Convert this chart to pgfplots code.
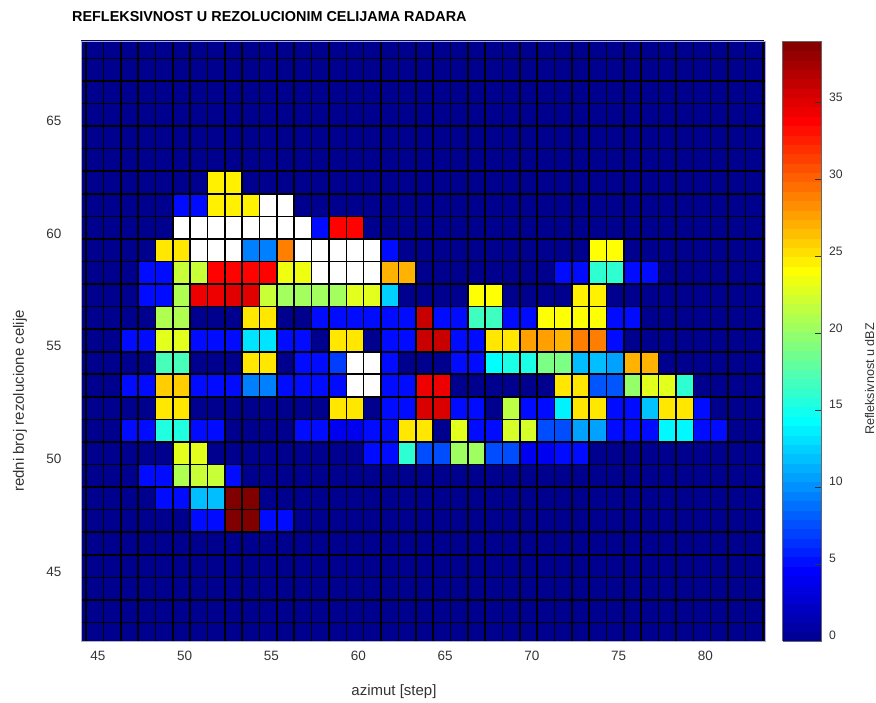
\documentclass[border=0pt]{standalone}
\usepackage{fontspec}
\setmainfont{Liberation Sans}
\usepackage{pgfplots}
\pgfplotsset{compat=1.18}
\definecolor{lbl}{gray}{0.2}
\definecolor{zerocell}{RGB}{0,0,143}
\begin{document}
\begin{tikzpicture}[x=1pt,y=1pt]
\useasboundingbox (0,0) rectangle (876,702);
\begin{axis}[
at={(81pt,61pt)}, anchor=south west,
scale only axis, width=684pt, height=600pt,
xmin=43.71, xmax=83.13, ymin=42.18, ymax=68.77,
axis background/.style={fill=zerocell},
axis on top,
xtick={45,50,...,80}, ytick={45,50,...,65},
minor xtick={44,45,...,83}, minor ytick={43,44,...,68},
grid=both,
major grid style={black, line width=1.6pt},
minor grid style={black, line width=1.6pt},
major tick length=0pt, minor tick length=0pt,
axis line style={gray!60, line width=0.8pt},
tick label style={font=\fontsize{13.5}{15}\selectfont, text=lbl},
xticklabel style={xshift=-5.4pt, yshift=-7pt},
yticklabel style={yshift=5.5pt, xshift=-16pt},
/pgf/number format/assume math mode=true,
title={\fontsize{14.4}{16}\selectfont\bfseries REFLEKSIVNOST U REZOLUCIONIM CELIJAMA RADARA},
title style={at={(axis description cs:-0.0132,1.031)}, anchor=west, inner sep=0pt, yshift=0pt},
xlabel={azimut [step]}, ylabel={redni broj rezolucione celije},
label style={font=\fontsize{15}{17}\selectfont, text=lbl},
xlabel style={at={(axis description cs:0.4576,-0.085)}, anchor=center},
ylabel style={at={(axis description cs:-0.0892,0.4)}, anchor=center},
colormap={mjet}{rgb255(0pt)=(0,0,143); rgb255(94pt)=(0,0,255); rgb255(293pt)=(0,255,255); rgb255(494pt)=(255,255,0); rgb255(693pt)=(255,0,0); rgb255(800pt)=(128,0,0)},
point meta min=0, point meta max=39,
colorbar sampled,
colorbar style={
  at={(parent axis.north east)}, anchor=north west, xshift=9pt,
  width=39pt, samples=65,
  grid=none,
  ytick={0,5,...,35}, ytick pos=right, yticklabel pos=right,
  major tick length=7pt, tick align=inside,
  tick style={draw=black!80, line width=0.7pt},
  axis line style={black!60, line width=0.8pt},
  /pgf/number format/assume math mode=true,
  ylabel={Refleksivnost u dBZ},
  ylabel style={font=\fontsize{12.6}{14}\selectfont, text=lbl, at={(axis description cs:2.23,0.4367)}, anchor=center},
  yticklabel style={font=\fontsize{12.2}{14}\selectfont, text=lbl, yshift=5.5pt, xshift=4pt},
},
]
% one line per row of cells, n and m name the cell, its top left corner is (n-1, m+1)
\addplot[surf, shader=flat corner, mesh/cols=41, mesh/check=false, point meta=explicit]
table[row sep=\\, x expr=\thisrow{n}-1, y expr=\thisrow{m}+1, meta=v]{
n m v\\
44 68 0\\45 68 0\\46 68 0\\47 68 0\\48 68 0\\49 68 0\\50 68 0\\51 68 0\\52 68 0\\53 68 0\\54 68 0\\55 68 0\\56 68 0\\57 68 0\\58 68 0\\59 68 0\\60 68 0\\61 68 0\\62 68 0\\63 68 0\\64 68 0\\65 68 0\\66 68 0\\67 68 0\\68 68 0\\69 68 0\\70 68 0\\71 68 0\\72 68 0\\73 68 0\\74 68 0\\75 68 0\\76 68 0\\77 68 0\\78 68 0\\79 68 0\\80 68 0\\81 68 0\\82 68 0\\83 68 0\\84 68 0\\
44 67 0\\45 67 0\\46 67 0\\47 67 0\\48 67 0\\49 67 0\\50 67 0\\51 67 0\\52 67 0\\53 67 0\\54 67 0\\55 67 0\\56 67 0\\57 67 0\\58 67 0\\59 67 0\\60 67 0\\61 67 0\\62 67 0\\63 67 0\\64 67 0\\65 67 0\\66 67 0\\67 67 0\\68 67 0\\69 67 0\\70 67 0\\71 67 0\\72 67 0\\73 67 0\\74 67 0\\75 67 0\\76 67 0\\77 67 0\\78 67 0\\79 67 0\\80 67 0\\81 67 0\\82 67 0\\83 67 0\\84 67 0\\
44 66 0\\45 66 0\\46 66 0\\47 66 0\\48 66 0\\49 66 0\\50 66 0\\51 66 0\\52 66 0\\53 66 0\\54 66 0\\55 66 0\\56 66 0\\57 66 0\\58 66 0\\59 66 0\\60 66 0\\61 66 0\\62 66 0\\63 66 0\\64 66 0\\65 66 0\\66 66 0\\67 66 0\\68 66 0\\69 66 0\\70 66 0\\71 66 0\\72 66 0\\73 66 0\\74 66 0\\75 66 0\\76 66 0\\77 66 0\\78 66 0\\79 66 0\\80 66 0\\81 66 0\\82 66 0\\83 66 0\\84 66 0\\
44 65 0\\45 65 0\\46 65 0\\47 65 0\\48 65 0\\49 65 0\\50 65 0\\51 65 0\\52 65 0\\53 65 0\\54 65 0\\55 65 0\\56 65 0\\57 65 0\\58 65 0\\59 65 0\\60 65 0\\61 65 0\\62 65 0\\63 65 0\\64 65 0\\65 65 0\\66 65 0\\67 65 0\\68 65 0\\69 65 0\\70 65 0\\71 65 0\\72 65 0\\73 65 0\\74 65 0\\75 65 0\\76 65 0\\77 65 0\\78 65 0\\79 65 0\\80 65 0\\81 65 0\\82 65 0\\83 65 0\\84 65 0\\
44 64 0\\45 64 0\\46 64 0\\47 64 0\\48 64 0\\49 64 0\\50 64 0\\51 64 0\\52 64 0\\53 64 0\\54 64 0\\55 64 0\\56 64 0\\57 64 0\\58 64 0\\59 64 0\\60 64 0\\61 64 0\\62 64 0\\63 64 0\\64 64 0\\65 64 0\\66 64 0\\67 64 0\\68 64 0\\69 64 0\\70 64 0\\71 64 0\\72 64 0\\73 64 0\\74 64 0\\75 64 0\\76 64 0\\77 64 0\\78 64 0\\79 64 0\\80 64 0\\81 64 0\\82 64 0\\83 64 0\\84 64 0\\
44 63 0\\45 63 0\\46 63 0\\47 63 0\\48 63 0\\49 63 0\\50 63 0\\51 63 0\\52 63 0\\53 63 0\\54 63 0\\55 63 0\\56 63 0\\57 63 0\\58 63 0\\59 63 0\\60 63 0\\61 63 0\\62 63 0\\63 63 0\\64 63 0\\65 63 0\\66 63 0\\67 63 0\\68 63 0\\69 63 0\\70 63 0\\71 63 0\\72 63 0\\73 63 0\\74 63 0\\75 63 0\\76 63 0\\77 63 0\\78 63 0\\79 63 0\\80 63 0\\81 63 0\\82 63 0\\83 63 0\\84 63 0\\
44 62 0\\45 62 0\\46 62 0\\47 62 0\\48 62 0\\49 62 0\\50 62 0\\51 62 0\\52 62 24.6\\53 62 24.6\\54 62 0\\55 62 0\\56 62 0\\57 62 0\\58 62 0\\59 62 0\\60 62 0\\61 62 0\\62 62 0\\63 62 0\\64 62 0\\65 62 0\\66 62 0\\67 62 0\\68 62 0\\69 62 0\\70 62 0\\71 62 0\\72 62 0\\73 62 0\\74 62 0\\75 62 0\\76 62 0\\77 62 0\\78 62 0\\79 62 0\\80 62 0\\81 62 0\\82 62 0\\83 62 0\\84 62 0\\
44 61 0\\45 61 0\\46 61 0\\47 61 0\\48 61 0\\49 61 0\\50 61 5\\51 61 5\\52 61 24.6\\53 61 24.6\\54 61 24.6\\55 61 0\\56 61 0\\57 61 0\\58 61 0\\59 61 0\\60 61 0\\61 61 0\\62 61 0\\63 61 0\\64 61 0\\65 61 0\\66 61 0\\67 61 0\\68 61 0\\69 61 0\\70 61 0\\71 61 0\\72 61 0\\73 61 0\\74 61 0\\75 61 0\\76 61 0\\77 61 0\\78 61 0\\79 61 0\\80 61 0\\81 61 0\\82 61 0\\83 61 0\\84 61 0\\
44 60 0\\45 60 0\\46 60 0\\47 60 0\\48 60 0\\49 60 0\\50 60 0\\51 60 0\\52 60 0\\53 60 0\\54 60 0\\55 60 0\\56 60 0\\57 60 0\\58 60 5\\59 60 33.7\\60 60 33.7\\61 60 0\\62 60 0\\63 60 0\\64 60 0\\65 60 0\\66 60 0\\67 60 0\\68 60 0\\69 60 0\\70 60 0\\71 60 0\\72 60 0\\73 60 0\\74 60 0\\75 60 0\\76 60 0\\77 60 0\\78 60 0\\79 60 0\\80 60 0\\81 60 0\\82 60 0\\83 60 0\\84 60 0\\
44 59 0\\45 59 0\\46 59 0\\47 59 0\\48 59 0\\49 59 25\\50 59 25\\51 59 0\\52 59 0\\53 59 0\\54 59 9.4\\55 59 9.4\\56 59 28.9\\57 59 0\\58 59 0\\59 59 0\\60 59 0\\61 59 0\\62 59 5\\63 59 0\\64 59 0\\65 59 0\\66 59 0\\67 59 0\\68 59 0\\69 59 0\\70 59 0\\71 59 0\\72 59 0\\73 59 0\\74 59 24\\75 59 24\\76 59 0\\77 59 0\\78 59 0\\79 59 0\\80 59 0\\81 59 0\\82 59 0\\83 59 0\\84 59 0\\
44 58 0\\45 58 0\\46 58 0\\47 58 0\\48 58 5\\49 58 5\\50 58 22\\51 58 22\\52 58 33.7\\53 58 33.7\\54 58 33.7\\55 58 33.7\\56 58 23.5\\57 58 23.5\\58 58 0\\59 58 0\\60 58 0\\61 58 0\\62 58 27\\63 58 27\\64 58 0\\65 58 0\\66 58 0\\67 58 0\\68 58 0\\69 58 0\\70 58 0\\71 58 0\\72 58 5\\73 58 5\\74 58 16\\75 58 16\\76 58 5\\77 58 5\\78 58 0\\79 58 0\\80 58 0\\81 58 0\\82 58 0\\83 58 0\\84 58 0\\
44 57 0\\45 57 0\\46 57 0\\47 57 0\\48 57 5\\49 57 5\\50 57 21\\51 57 34.5\\52 57 34.5\\53 57 35\\54 57 35\\55 57 22\\56 57 20.5\\57 57 20.5\\58 57 20.5\\59 57 20.5\\60 57 23\\61 57 23\\62 57 12.5\\63 57 0\\64 57 0\\65 57 0\\66 57 0\\67 57 24\\68 57 24\\69 57 0\\70 57 0\\71 57 0\\72 57 0\\73 57 24.6\\74 57 24.6\\75 57 0\\76 57 0\\77 57 0\\78 57 0\\79 57 0\\80 57 0\\81 57 0\\82 57 0\\83 57 0\\84 57 0\\
44 56 0\\45 56 0\\46 56 0\\47 56 0\\48 56 0\\49 56 21\\50 56 21\\51 56 0\\52 56 0\\53 56 0\\54 56 25\\55 56 25\\56 56 0\\57 56 0\\58 56 5\\59 56 5\\60 56 5\\61 56 5\\62 56 5\\63 56 5\\64 56 36\\65 56 5\\66 56 5\\67 56 16.7\\68 56 16.7\\69 56 5\\70 56 5\\71 56 24\\72 56 24\\73 56 24\\74 56 24\\75 56 5\\76 56 5\\77 56 0\\78 56 0\\79 56 0\\80 56 0\\81 56 0\\82 56 0\\83 56 0\\84 56 0\\
44 55 0\\45 55 0\\46 55 0\\47 55 5\\48 55 5\\49 55 23\\50 55 23\\51 55 5\\52 55 5\\53 55 5\\54 55 13.3\\55 55 13.3\\56 55 5\\57 55 5\\58 55 0\\59 55 25\\60 55 25\\61 55 0\\62 55 5\\63 55 5\\64 55 36\\65 55 36\\66 55 5\\67 55 5\\68 55 25\\69 55 25\\70 55 27.7\\71 55 27.7\\72 55 27\\73 55 29\\74 55 29\\75 55 5\\76 55 0\\77 55 0\\78 55 0\\79 55 0\\80 55 0\\81 55 0\\82 55 0\\83 55 0\\84 55 0\\
44 54 0\\45 54 0\\46 54 0\\47 54 0\\48 54 0\\49 54 17\\50 54 17\\51 54 0\\52 54 0\\53 54 0\\54 54 25\\55 54 25\\56 54 0\\57 54 5\\58 54 5\\59 54 6.9\\60 54 0\\61 54 0\\62 54 5\\63 54 0\\64 54 0\\65 54 0\\66 54 5\\67 54 5\\68 54 14.3\\69 54 15.3\\70 54 15.3\\71 54 19\\72 54 19\\73 54 11.8\\74 54 11.8\\75 54 10.7\\76 54 27\\77 54 27\\78 54 0\\79 54 0\\80 54 0\\81 54 0\\82 54 0\\83 54 0\\84 54 0\\
44 53 0\\45 53 0\\46 53 0\\47 53 5\\48 53 5\\49 53 26\\50 53 26\\51 53 5\\52 53 5\\53 53 5\\54 53 9.4\\55 53 9.4\\56 53 5\\57 53 5\\58 53 5\\59 53 5\\60 53 0\\61 53 0\\62 53 5\\63 53 5\\64 53 34.5\\65 53 34.5\\66 53 0\\67 53 0\\68 53 0\\69 53 0\\70 53 0\\71 53 0\\72 53 25\\73 53 25\\74 53 7.8\\75 53 7.8\\76 53 20\\77 53 23\\78 53 23\\79 53 16\\80 53 0\\81 53 0\\82 53 0\\83 53 0\\84 53 0\\
44 52 0\\45 52 0\\46 52 0\\47 52 0\\48 52 0\\49 52 25\\50 52 25\\51 52 0\\52 52 0\\53 52 0\\54 52 0\\55 52 0\\56 52 0\\57 52 0\\58 52 0\\59 52 25\\60 52 25\\61 52 0\\62 52 5\\63 52 5\\64 52 35.3\\65 52 35.3\\66 52 5\\67 52 5\\68 52 0\\69 52 21.5\\70 52 5\\71 52 5\\72 52 13.8\\73 52 25\\74 52 25\\75 52 5\\76 52 5\\77 52 12\\78 52 25\\79 52 25\\80 52 5\\81 52 0\\82 52 0\\83 52 0\\84 52 0\\
44 51 0\\45 51 0\\46 51 0\\47 51 5\\48 51 5\\49 51 15.5\\50 51 15.5\\51 51 5\\52 51 5\\53 51 0\\54 51 0\\55 51 0\\56 51 0\\57 51 5\\58 51 5\\59 51 4\\60 51 4\\61 51 5\\62 51 5\\63 51 25\\64 51 25\\65 51 0\\66 51 23\\67 51 5\\68 51 5\\69 51 22.5\\70 51 22.5\\71 51 7.5\\72 51 7.5\\73 51 10.7\\74 51 10.7\\75 51 5\\76 51 5\\77 51 5\\78 51 14\\79 51 14\\80 51 5\\81 51 5\\82 51 0\\83 51 0\\84 51 0\\
44 50 0\\45 50 0\\46 50 0\\47 50 0\\48 50 0\\49 50 0\\50 50 23\\51 50 23\\52 50 0\\53 50 0\\54 50 0\\55 50 0\\56 50 0\\57 50 0\\58 50 0\\59 50 0\\60 50 0\\61 50 5\\62 50 5\\63 50 16\\64 50 7.5\\65 50 7.5\\66 50 20.4\\67 50 20.4\\68 50 7.5\\69 50 7.5\\70 50 4\\71 50 4\\72 50 5\\73 50 5\\74 50 0\\75 50 0\\76 50 0\\77 50 0\\78 50 0\\79 50 0\\80 50 0\\81 50 0\\82 50 0\\83 50 0\\84 50 0\\
44 49 0\\45 49 0\\46 49 0\\47 49 0\\48 49 5\\49 49 5\\50 49 21\\51 49 22\\52 49 22\\53 49 5\\54 49 0\\55 49 0\\56 49 0\\57 49 0\\58 49 0\\59 49 0\\60 49 0\\61 49 0\\62 49 0\\63 49 0\\64 49 0\\65 49 0\\66 49 0\\67 49 0\\68 49 0\\69 49 0\\70 49 0\\71 49 0\\72 49 0\\73 49 0\\74 49 0\\75 49 0\\76 49 0\\77 49 0\\78 49 0\\79 49 0\\80 49 0\\81 49 0\\82 49 0\\83 49 0\\84 49 0\\
44 48 0\\45 48 0\\46 48 0\\47 48 0\\48 48 0\\49 48 5\\50 48 5\\51 48 11.8\\52 48 11.8\\53 48 39\\54 48 39\\55 48 0\\56 48 0\\57 48 0\\58 48 0\\59 48 0\\60 48 0\\61 48 0\\62 48 0\\63 48 0\\64 48 0\\65 48 0\\66 48 0\\67 48 0\\68 48 0\\69 48 0\\70 48 0\\71 48 0\\72 48 0\\73 48 0\\74 48 0\\75 48 0\\76 48 0\\77 48 0\\78 48 0\\79 48 0\\80 48 0\\81 48 0\\82 48 0\\83 48 0\\84 48 0\\
44 47 0\\45 47 0\\46 47 0\\47 47 0\\48 47 0\\49 47 0\\50 47 0\\51 47 5\\52 47 5\\53 47 39\\54 47 39\\55 47 5\\56 47 5\\57 47 0\\58 47 0\\59 47 0\\60 47 0\\61 47 0\\62 47 0\\63 47 0\\64 47 0\\65 47 0\\66 47 0\\67 47 0\\68 47 0\\69 47 0\\70 47 0\\71 47 0\\72 47 0\\73 47 0\\74 47 0\\75 47 0\\76 47 0\\77 47 0\\78 47 0\\79 47 0\\80 47 0\\81 47 0\\82 47 0\\83 47 0\\84 47 0\\
44 46 0\\45 46 0\\46 46 0\\47 46 0\\48 46 0\\49 46 0\\50 46 0\\51 46 0\\52 46 0\\53 46 0\\54 46 0\\55 46 0\\56 46 0\\57 46 0\\58 46 0\\59 46 0\\60 46 0\\61 46 0\\62 46 0\\63 46 0\\64 46 0\\65 46 0\\66 46 0\\67 46 0\\68 46 0\\69 46 0\\70 46 0\\71 46 0\\72 46 0\\73 46 0\\74 46 0\\75 46 0\\76 46 0\\77 46 0\\78 46 0\\79 46 0\\80 46 0\\81 46 0\\82 46 0\\83 46 0\\84 46 0\\
44 45 0\\45 45 0\\46 45 0\\47 45 0\\48 45 0\\49 45 0\\50 45 0\\51 45 0\\52 45 0\\53 45 0\\54 45 0\\55 45 0\\56 45 0\\57 45 0\\58 45 0\\59 45 0\\60 45 0\\61 45 0\\62 45 0\\63 45 0\\64 45 0\\65 45 0\\66 45 0\\67 45 0\\68 45 0\\69 45 0\\70 45 0\\71 45 0\\72 45 0\\73 45 0\\74 45 0\\75 45 0\\76 45 0\\77 45 0\\78 45 0\\79 45 0\\80 45 0\\81 45 0\\82 45 0\\83 45 0\\84 45 0\\
44 44 0\\45 44 0\\46 44 0\\47 44 0\\48 44 0\\49 44 0\\50 44 0\\51 44 0\\52 44 0\\53 44 0\\54 44 0\\55 44 0\\56 44 0\\57 44 0\\58 44 0\\59 44 0\\60 44 0\\61 44 0\\62 44 0\\63 44 0\\64 44 0\\65 44 0\\66 44 0\\67 44 0\\68 44 0\\69 44 0\\70 44 0\\71 44 0\\72 44 0\\73 44 0\\74 44 0\\75 44 0\\76 44 0\\77 44 0\\78 44 0\\79 44 0\\80 44 0\\81 44 0\\82 44 0\\83 44 0\\84 44 0\\
44 43 0\\45 43 0\\46 43 0\\47 43 0\\48 43 0\\49 43 0\\50 43 0\\51 43 0\\52 43 0\\53 43 0\\54 43 0\\55 43 0\\56 43 0\\57 43 0\\58 43 0\\59 43 0\\60 43 0\\61 43 0\\62 43 0\\63 43 0\\64 43 0\\65 43 0\\66 43 0\\67 43 0\\68 43 0\\69 43 0\\70 43 0\\71 43 0\\72 43 0\\73 43 0\\74 43 0\\75 43 0\\76 43 0\\77 43 0\\78 43 0\\79 43 0\\80 43 0\\81 43 0\\82 43 0\\83 43 0\\84 43 0\\
44 42 0\\45 42 0\\46 42 0\\47 42 0\\48 42 0\\49 42 0\\50 42 0\\51 42 0\\52 42 0\\53 42 0\\54 42 0\\55 42 0\\56 42 0\\57 42 0\\58 42 0\\59 42 0\\60 42 0\\61 42 0\\62 42 0\\63 42 0\\64 42 0\\65 42 0\\66 42 0\\67 42 0\\68 42 0\\69 42 0\\70 42 0\\71 42 0\\72 42 0\\73 42 0\\74 42 0\\75 42 0\\76 42 0\\77 42 0\\78 42 0\\79 42 0\\80 42 0\\81 42 0\\82 42 0\\83 42 0\\84 42 0\\
};
% white cells (no echo value)
\addplot[draw=none, fill=white, unbounded coords=jump, mark=none] coordinates {
(54,61)(55,61)(55,62)(54,62)(54,61)(nan,nan)
(55,61)(56,61)(56,62)(55,62)(55,61)(nan,nan)
(49,60)(50,60)(50,61)(49,61)(49,60)(nan,nan)
(50,60)(51,60)(51,61)(50,61)(50,60)(nan,nan)
(51,60)(52,60)(52,61)(51,61)(51,60)(nan,nan)
(52,60)(53,60)(53,61)(52,61)(52,60)(nan,nan)
(53,60)(54,60)(54,61)(53,61)(53,60)(nan,nan)
(54,60)(55,60)(55,61)(54,61)(54,60)(nan,nan)
(55,60)(56,60)(56,61)(55,61)(55,60)(nan,nan)
(56,60)(57,60)(57,61)(56,61)(56,60)(nan,nan)
(50,59)(51,59)(51,60)(50,60)(50,59)(nan,nan)
(51,59)(52,59)(52,60)(51,60)(51,59)(nan,nan)
(52,59)(53,59)(53,60)(52,60)(52,59)(nan,nan)
(56,59)(57,59)(57,60)(56,60)(56,59)(nan,nan)
(57,59)(58,59)(58,60)(57,60)(57,59)(nan,nan)
(58,59)(59,59)(59,60)(58,60)(58,59)(nan,nan)
(59,59)(60,59)(60,60)(59,60)(59,59)(nan,nan)
(60,59)(61,59)(61,60)(60,60)(60,59)(nan,nan)
(57,58)(58,58)(58,59)(57,59)(57,58)(nan,nan)
(58,58)(59,58)(59,59)(58,59)(58,58)(nan,nan)
(59,58)(60,58)(60,59)(59,59)(59,58)(nan,nan)
(60,58)(61,58)(61,59)(60,59)(60,58)(nan,nan)
(59,54)(60,54)(60,55)(59,55)(59,54)(nan,nan)
(60,54)(61,54)(61,55)(60,55)(60,54)(nan,nan)
(59,53)(60,53)(60,54)(59,54)(59,53)(nan,nan)
(60,53)(61,53)(61,54)(60,54)(60,53)
};
\end{axis}
\end{tikzpicture}
\end{document}
